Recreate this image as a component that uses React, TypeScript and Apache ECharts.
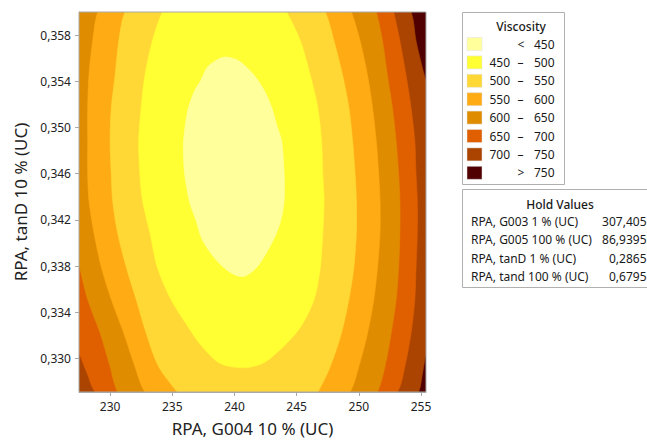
import React, { useEffect, useRef } from "react";
import * as echarts from "echarts";

// Axis ranges and ticks
const xRange = [227.5, 255.4];
const yRange = [0.3271, 0.36];
const xTicks = [230, 235, 240, 245, 250, 255];
const yTicks = [0.33, 0.334, 0.338, 0.342, 0.346, 0.35, 0.354, 0.358];

// Legend bands (low to high)
const bandLabels = [
  ["<", "450"],
  ["450", "500"],
  ["500", "550"],
  ["550", "600"],
  ["600", "650"],
  ["650", "700"],
  ["700", "750"],
  [">", "750"],
];
const bandColors = ["#FFFF9C", "#FFFF33", "#FFD835", "#FFAB14", "#E08C00", "#E06000", "#AA4400", "#500000"];

// Hold values
const holdNames = ["RPA, G003 1 % (UC)", "RPA, G005 100 % (UC)", "RPA, tanD 1 % (UC)", "RPA, tand 100 % (UC)"];
const holdValues = ["307,405", "86,9395", "0,2865", "0,6795"];

// Contour lines: closed boundary of region "Viscosity < level"
const contour750 = [[254.2,0.3600],[254.6,0.3575],[255.1,0.3552],[255.4,0.3539],[255.9,0.3481],[256.0,0.3420],[255.9,0.3351],[255.4,0.3306],[255.1,0.3286],[254.8,0.3271],[251.7,0.3212],[238.8,0.3186],[225.9,0.3212],[223.5,0.3351],[222.7,0.3437],[223.5,0.3567],[225.9,0.3662],[238.8,0.3697],[251.7,0.3654]];
const contour700 = [[226.1,0.3610],[225.8,0.3524],[225.5,0.3437],[225.9,0.3351],[227.5,0.3305],[228.2,0.3286],[228.8,0.3271],[233.2,0.3221],[241.2,0.3204],[249.3,0.3221],[253.1,0.3271],[253.7,0.3293],[254.2,0.3322],[254.5,0.3351],[254.6,0.3379],[254.7,0.3409],[254.7,0.3437],[254.6,0.3459],[254.5,0.3488],[254.2,0.3517],[253.8,0.3545],[253.3,0.3575],[252.8,0.3600],[251.7,0.3645],[238.8,0.3688],[227.5,0.3654]];
const contour650 = [[226.7,0.3628],[226.4,0.3524],[226.5,0.3455],[226.9,0.3407],[227.5,0.3381],[228.2,0.3351],[229.2,0.3322],[230.0,0.3293],[230.6,0.3271],[233.2,0.3229],[241.2,0.3212],[249.3,0.3229],[251.5,0.3271],[252.1,0.3293],[252.6,0.3322],[253.0,0.3351],[253.2,0.3379],[253.3,0.3409],[253.3,0.3437],[253.2,0.3459],[253.0,0.3488],[252.7,0.3517],[252.3,0.3545],[251.9,0.3575],[251.4,0.3600],[250.1,0.3645],[238.8,0.3680],[228.3,0.3654]];
const contour600 = [[229.0,0.3600],[228.6,0.3575],[228.3,0.3545],[228.2,0.3517],[228.2,0.3488],[228.2,0.3459],[228.3,0.3437],[228.7,0.3409],[229.3,0.3379],[230.1,0.3351],[231.1,0.3322],[232.0,0.3293],[232.8,0.3271],[235.6,0.3238],[241.2,0.3225],[246.9,0.3238],[249.3,0.3271],[250.0,0.3293],[250.7,0.3322],[251.2,0.3351],[251.5,0.3379],[251.7,0.3409],[251.7,0.3437],[251.6,0.3459],[251.4,0.3488],[251.1,0.3517],[250.7,0.3545],[250.1,0.3575],[249.4,0.3600],[247.7,0.3645],[239.2,0.3671],[230.8,0.3645]];
const contour550 = [[231.2,0.3600],[230.7,0.3575],[230.4,0.3545],[230.1,0.3517],[230.0,0.3488],[230.1,0.3459],[230.2,0.3437],[230.6,0.3409],[231.3,0.3379],[232.1,0.3351],[232.9,0.3322],[233.9,0.3293],[235.4,0.3271],[237.2,0.3247],[241.2,0.3238],[245.3,0.3251],[246.7,0.3271],[247.7,0.3293],[248.6,0.3322],[249.2,0.3351],[249.6,0.3379],[249.8,0.3409],[249.8,0.3437],[249.7,0.3459],[249.5,0.3488],[249.2,0.3517],[248.7,0.3545],[248.0,0.3575],[247.3,0.3600],[245.3,0.3636],[239.2,0.3654],[233.2,0.3636]];
const contour500 = [[234.2,0.3600],[233.4,0.3575],[232.8,0.3545],[232.5,0.3517],[232.3,0.3488],[232.4,0.3459],[232.6,0.3437],[233.2,0.3409],[233.8,0.3379],[234.9,0.3351],[236.3,0.3327],[237.2,0.3313],[238.8,0.3296],[240.7,0.3292],[242.3,0.3296],[243.9,0.3310],[245.3,0.3327],[246.4,0.3351],[246.9,0.3379],[247.1,0.3409],[247.2,0.3437],[247.1,0.3459],[247.0,0.3488],[246.7,0.3517],[246.1,0.3545],[245.3,0.3575],[244.2,0.3600],[243.2,0.3619],[240.4,0.3636],[237.2,0.3632],[235.2,0.3619]];
const contour450 = [[239.2,0.3561],[240.1,0.3559],[240.8,0.3554],[241.6,0.3545],[242.4,0.3532],[243.0,0.3517],[243.4,0.3502],[243.8,0.3488],[244.0,0.3459],[244.0,0.3437],[243.8,0.3423],[243.4,0.3409],[242.7,0.3394],[241.8,0.3379],[240.7,0.3371],[239.6,0.3375],[238.4,0.3387],[237.4,0.3403],[236.9,0.3420],[236.4,0.3435],[236.0,0.3459],[235.9,0.3474],[235.9,0.3488],[236.1,0.3506],[236.3,0.3517],[236.8,0.3532],[237.3,0.3541],[237.8,0.3552],[238.5,0.3558]];

// Drawing order: outermost first; each filled with the colour of the band just below its level
const contourSets = [
  { points: contour750, color: bandColors[6] },
  { points: contour700, color: bandColors[5] },
  { points: contour650, color: bandColors[4] },
  { points: contour600, color: bandColors[3] },
  { points: contour550, color: bandColors[2] },
  { points: contour500, color: bandColors[1] },
  { points: contour450, color: bandColors[0] },
];

const FONT = "'Noto Sans', 'Open Sans', sans-serif";
const GRID = { left: 79, top: 12, width: 347, height: 380 };

function txt(x: number, y: number, text: string, align: string, extra: any = {}) {
  return {
    type: "text",
    x,
    y,
    z: 110,
    style: {
      text,
      fill: "#1a1a1a",
      fontSize: 12,
      fontFamily: FONT,
      align,
      textAlign: align,
      verticalAlign: "middle",
      textVerticalAlign: "middle",
      ...extra,
    },
  };
}

export default function App() {
  const ref = useRef<HTMLDivElement>(null);
  useEffect(() => {
    const chart = echarts.init(ref.current!, null, { renderer: "svg" });

    const graphics: any[] = [];
    // plot frame
    graphics.push({
      type: "rect",
      z: 100,
      shape: { x: GRID.left, y: GRID.top, width: GRID.width, height: GRID.height },
      style: { fill: "none", stroke: "#A8A8A8", lineWidth: 1 },
    });
    // Viscosity legend
    graphics.push({
      type: "rect",
      z: 100,
      shape: { x: 462.5, y: 12.5, width: 102, height: 172 },
      style: { fill: "#fff", stroke: "#B0B0B0", lineWidth: 1 },
    });
    graphics.push(txt(521, 26, "Viscosity", "center", { fontWeight: 500 }));
    bandLabels.forEach((lab, i) => {
      const cy = 44 + i * 18.4;
      graphics.push({
        type: "rect",
        z: 110,
        shape: { x: 467, y: cy - 6.5, width: 15, height: 13 },
        style: { fill: bandColors[i], stroke: "#e0e0e0", lineWidth: 0.5 },
      });
      if (lab[0] === "<" || lab[0] === ">") {
        graphics.push(txt(521, cy, lab[0], "center"));
      } else {
        graphics.push(txt(510, cy, lab[0], "right"));
        graphics.push(txt(520.5, cy, "–", "center"));
      }
      graphics.push(txt(554.5, cy, lab[1], "right"));
    });
    // Hold values box
    graphics.push({
      type: "rect",
      z: 100,
      shape: { x: 462.5, y: 189.5, width: 200, height: 98 },
      style: { fill: "#fff", stroke: "#B0B0B0", lineWidth: 1 },
    });
    graphics.push(txt(560, 204, "Hold Values", "center", { fontWeight: 500 }));
    holdNames.forEach((n, i) => {
      const cy = 221.5 + i * 18.4;
      graphics.push(txt(471, cy, n, "left"));
      graphics.push(txt(646.5, cy, holdValues[i], "right"));
    });

    chart.setOption({
      animation: false,
      backgroundColor: "#fff",
      grid: { ...GRID, show: true, backgroundColor: bandColors[7], borderWidth: 0 },
      xAxis: {
        type: "value",
        min: xRange[0],
        max: xRange[1],
        splitLine: { show: false },
        axisLine: { show: true, lineStyle: { color: "#A8A8A8" } },
        axisTick: { show: true, length: 4, lineStyle: { color: "#A8A8A8" }, customValues: xTicks },
        axisLabel: { customValues: xTicks, color: "#222", fontSize: 12, fontFamily: FONT, margin: 8 },
        name: "RPA, G004 10 % (UC)",
        nameLocation: "middle",
        nameGap: 28,
        nameTextStyle: { color: "#222", fontSize: 17, fontFamily: FONT },
      },
      yAxis: {
        type: "value",
        min: yRange[0],
        max: yRange[1],
        splitLine: { show: false },
        axisLine: { show: true, lineStyle: { color: "#A8A8A8" } },
        axisTick: { show: true, length: 4, lineStyle: { color: "#A8A8A8" }, customValues: yTicks },
        axisLabel: {
          customValues: yTicks,
          color: "#222",
          fontSize: 12,
          fontFamily: FONT,
          margin: 8,
          formatter: (v: number) => v.toFixed(3).replace(".", ","),
        },
        name: "RPA, tanD 10 % (UC)",
        nameLocation: "middle",
        nameGap: 48,
        nameTextStyle: { color: "#222", fontSize: 17, fontFamily: FONT },
      },
      series: [
        {
          type: "custom",
          coordinateSystem: "cartesian2d",
          clip: true,
          data: contourSets.map((c, i) => [c.points[0][0], c.points[0][1], i]),
          renderItem: (params: any, api: any) => {
            const set = contourSets[params.dataIndex];
            const pts = set.points.map((p) => api.coord(p));
            const cs = params.coordSys;
            return {
              type: "group",
              clipPath: { type: "rect", shape: { x: cs.x, y: cs.y, width: cs.width, height: cs.height } },
              children: [
                {
                  type: "polygon",
                  shape: { points: pts, smooth: 0.3 },
                  style: { fill: set.color, stroke: set.color, lineWidth: 0.6 },
                },
              ],
            };
          },
        },
      ],
      graphic: graphics,
    });
    return () => chart.dispose();
  }, []);
  return (
    <div
      ref={ref}
      style={{ position: "fixed", left: 0, top: 0, width: 647, height: 443, background: "#fff" }}
    />
  );
}
